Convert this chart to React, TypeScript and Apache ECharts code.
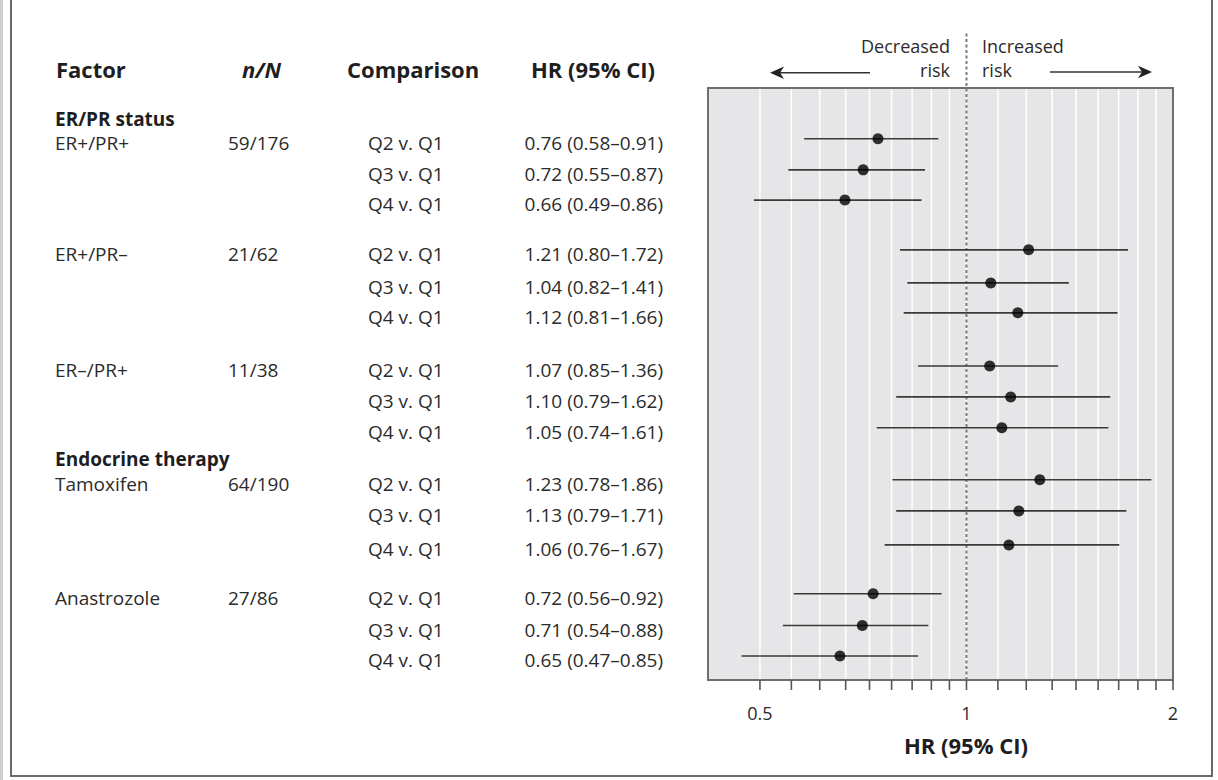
import React, { useEffect, useRef } from 'react';
import * as echarts from 'echarts';

const FONT = '"Open Sans", "Noto Sans", sans-serif';

// Table / data
const groupLabels = ['ER/PR status', 'Endocrine therapy'];
const groupRowPos = [0.86, 11.66];
const factors = ['ER+/PR+', 'ER+/PR–', 'ER–/PR+', 'Tamoxifen', 'Anastrozole'];
const counts = ['59/176', '21/62', '11/38', '64/190', '27/86'];
const comparisons = ['Q2 v. Q1', 'Q3 v. Q1', 'Q4 v. Q1'];
// Printed hazard ratios and 95% CIs
const hrValues = [0.76, 0.72, 0.66, 1.21, 1.04, 1.12, 1.07, 1.1, 1.05, 1.23, 1.13, 1.06, 0.72, 0.71, 0.65];
const ciLow = [0.58, 0.55, 0.49, 0.8, 0.82, 0.81, 0.85, 0.79, 0.74, 0.78, 0.79, 0.76, 0.56, 0.54, 0.47];
const ciHigh = [0.91, 0.87, 0.86, 1.72, 1.41, 1.66, 1.36, 1.62, 1.61, 1.86, 1.71, 1.67, 0.92, 0.88, 0.85];
// Point estimates as plotted
const plottedHR = [0.743, 0.707, 0.665, 1.232, 1.085, 1.188, 1.081, 1.16, 1.126, 1.279, 1.192, 1.153, 0.731, 0.705, 0.654];
// Row positions (in line units from top of panel)
const rowPos = [1.61, 2.6, 3.56, 5.14, 6.19, 7.14, 8.83, 9.81, 10.79, 12.44, 13.43, 14.51, 16.06, 17.07, 18.04];
// X-axis tick / gridline values
const xTickValues = [
  0.5, 0.5556, 0.6111, 0.6667, 0.7222, 0.7778, 0.8333, 0.8889, 0.9444,
  1, 1.1111, 1.2222, 1.3333, 1.4444, 1.5556, 1.6667, 1.7778, 1.8889, 2,
];
const xLabelValues = [0.5, 1, 2];
const X_MIN = 0.42;
const X_MAX = 2;
const Y_MAX = 18.8;

// column x anchors in the table grid (pixel units)
const COL_FACTOR = 55;
const COL_N = 228;
const COL_COMP = 368;
const COL_HR_RIGHT = 663;

const TEXT = '#2b2b2b';

function fmt(v: number) {
  return v.toFixed(2);
}

export default function App() {
  const ref = useRef<HTMLDivElement>(null);

  useEffect(() => {
    document.body.style.margin = '0';
    if (!ref.current) return;
    const chart = echarts.init(ref.current, undefined, { renderer: 'svg' });

    // table cells: [x, y, index into cellInfo]
    const cellInfo: { text: string; bold: boolean; align: string }[] = [];
    const tableData: number[][] = [];
    const cell = (x: number, y: number, text: string, bold = false, align = 'left') => {
      cellInfo.push({ text, bold, align });
      tableData.push([x, y, cellInfo.length - 1]);
    };
    groupLabels.forEach((g, i) => cell(COL_FACTOR, groupRowPos[i], g, true));
    factors.forEach((f, i) => {
      cell(COL_FACTOR, rowPos[i * 3], f);
      cell(COL_N, rowPos[i * 3], counts[i]);
    });
    hrValues.forEach((hr, i) => {
      cell(COL_COMP, rowPos[i], comparisons[i % 3]);
      cell(COL_HR_RIGHT, rowPos[i], `${fmt(hr)} (${fmt(ciLow[i])}–${fmt(ciHigh[i])})`, false, 'right');
    });

    const header = (x: number, text: string, italic = false) => ({
      type: 'text',
      x,
      y: 68.5,
      style: {
        text,
        fill: '#1e1e1e',
        fontSize: 22,
        fontWeight: 'bold',
        fontStyle: italic ? 'italic' : 'normal',
        fontFamily: FONT,
        align: 'left',
        verticalAlign: 'middle',
      },
    });
    const note = (x: number, y: number, text: string, align: string) => ({
      type: 'text',
      x,
      y,
      style: { text, fill: TEXT, fontSize: 18, fontFamily: FONT, align, verticalAlign: 'middle' },
    });

    const option: any = {
      animation: false,
      grid: [
        {
          left: 708,
          right: 45,
          top: 88,
          bottom: 100,
          show: true,
          backgroundColor: '#e6e6e8',
          borderColor: '#6e6e6e',
          borderWidth: 2,
        },
        { left: 0, right: 0, top: 88, bottom: 100, show: false },
      ],
      xAxis: [
        {
          gridIndex: 0,
          type: 'log',
          logBase: 2,
          min: X_MIN,
          max: X_MAX,
          axisLine: { show: false },
          axisTick: { show: false },
          splitLine: { show: false },
          minorTick: { show: false },
          axisLabel: {
            margin: 24,
            fontSize: 18,
            color: TEXT,
            fontFamily: FONT,
            formatter: (v: number) => {
              const hit = xLabelValues.find((t) => Math.abs(Math.log2(v) - Math.log2(t)) < 1e-6);
              return hit === undefined ? '' : String(hit);
            },
          },
          name: 'HR (95% CI)',
          nameLocation: 'middle',
          nameGap: 54,
          nameTextStyle: {
            fontSize: 22,
            fontWeight: 'bold',
            color: '#1e1e1e',
            fontFamily: FONT,
            padding: [0, 0, 0, 51],
            verticalAlign: 'top',
          },
        },
        { gridIndex: 1, type: 'value', min: 0, max: 1218, show: false },
      ],
      yAxis: [
        { gridIndex: 0, type: 'value', inverse: true, min: 0, max: Y_MAX, show: false },
        { gridIndex: 1, type: 'value', inverse: true, min: 0, max: Y_MAX, show: false },
      ],
      series: [
        {
          type: 'custom',
          name: 'grid',
          xAxisIndex: 0,
          yAxisIndex: 0,
          silent: true,
          z: 1,
          data: xTickValues.map((v) => [v, 0]),
          encode: { x: 0, y: 1 },
          renderItem: (params: any, api: any) => {
            const cs = params.coordSys;
            const x = api.coord([api.value(0), 0])[0];
            const top = cs.y;
            const bot = cs.y + cs.height;
            const children: any[] = [
              {
                type: 'line',
                shape: { x1: x, y1: bot, x2: x, y2: bot + 10 },
                style: { stroke: '#555', lineWidth: 1.6 },
              },
            ];
            if (x < cs.x + cs.width - 2) {
              children.push({
                type: 'line',
                shape: { x1: x, y1: top + 1, x2: x, y2: bot - 1 },
                style: { stroke: '#ffffff', lineWidth: 1.5 },
              });
            }
            return { type: 'group', children };
          },
        },
        {
          type: 'custom',
          name: 'reference',
          xAxisIndex: 0,
          yAxisIndex: 0,
          silent: true,
          z: 2,
          data: [[1, 0]],
          encode: { x: 0, y: 1 },
          renderItem: (params: any, api: any) => {
            const cs = params.coordSys;
            const x = api.coord([api.value(0), 0])[0];
            return {
              type: 'line',
              shape: { x1: x, y1: cs.y + cs.height, x2: x, y2: cs.y - 55 },
              style: { stroke: '#7a7a7a', lineWidth: 2, lineDash: [3, 2.5] },
            };
          },
        },
        {
          type: 'custom',
          name: 'CI',
          xAxisIndex: 0,
          yAxisIndex: 0,
          silent: true,
          z: 3,
          data: rowPos.map((y, i) => [ciLow[i], ciHigh[i], y]),
          encode: { x: [0, 1], y: 2 },
          renderItem: (params: any, api: any) => {
            const a = api.coord([api.value(0), api.value(2)]);
            const b = api.coord([api.value(1), api.value(2)]);
            return {
              type: 'line',
              shape: { x1: a[0], y1: a[1], x2: b[0], y2: b[1] },
              style: { stroke: '#3a3a3a', lineWidth: 1.6 },
            };
          },
        },
        {
          type: 'scatter',
          name: 'HR',
          xAxisIndex: 0,
          yAxisIndex: 0,
          z: 4,
          symbol: 'circle',
          symbolSize: 11,
          itemStyle: { color: '#000000' },
          data: plottedHR.map((v, i) => [v, rowPos[i]]),
        },
        {
          type: 'custom',
          name: 'table',
          xAxisIndex: 1,
          yAxisIndex: 1,
          silent: true,
          z: 5,
          data: tableData,
          encode: { x: 0, y: 1 },
          renderItem: (params: any, api: any) => {
            const p = api.coord([api.value(0), api.value(1)]);
            const info = cellInfo[api.value(2)];
            return {
              type: 'text',
              x: p[0],
              y: p[1] + 4,
              style: {
                text: info.text,
                fill: info.bold ? '#1e1e1e' : TEXT,
                fontSize: 19,
                fontWeight: info.bold ? 'bold' : 'normal',
                fontFamily: FONT,
                align: info.align,
                verticalAlign: 'middle',
              },
            };
          },
        },
      ],
      graphic: [
        { type: 'rect', shape: { x: 0, y: 0, width: 3, height: 780 }, style: { fill: '#cfcfcf' } },
        {
          type: 'rect',
          shape: { x: 11, y: -5, width: 1201, height: 781 },
          style: { fill: 'none', stroke: '#6a6a6a', lineWidth: 2 },
        },
        header(56, 'Factor'),
        header(242, 'n/N', true),
        header(347, 'Comparison'),
        header(531, 'HR (95% CI)'),
        note(950, 46, 'Decreased', 'right'),
        note(950, 70, 'risk', 'right'),
        note(982, 46, 'Increased', 'left'),
        note(982, 70, 'risk', 'left'),
        {
          type: 'line',
          shape: { x1: 870, y1: 72.7, x2: 779, y2: 72.7 },
          style: { stroke: '#333', lineWidth: 1.6 },
        },
        {
          type: 'polygon',
          shape: { points: [[770, 72.7], [784, 66.5], [780, 72.7], [784, 79]] },
          style: { fill: '#222' },
        },
        {
          type: 'line',
          shape: { x1: 1050, y1: 72, x2: 1143, y2: 72 },
          style: { stroke: '#333', lineWidth: 1.6 },
        },
        {
          type: 'polygon',
          shape: { points: [[1152, 72], [1138, 65.8], [1142, 72], [1138, 78.2]] },
          style: { fill: '#222' },
        },
      ],
    };

    chart.setOption(option);
    return () => chart.dispose();
  }, []);

  return <div ref={ref} style={{ width: 1218, height: 780 }} />;
}
